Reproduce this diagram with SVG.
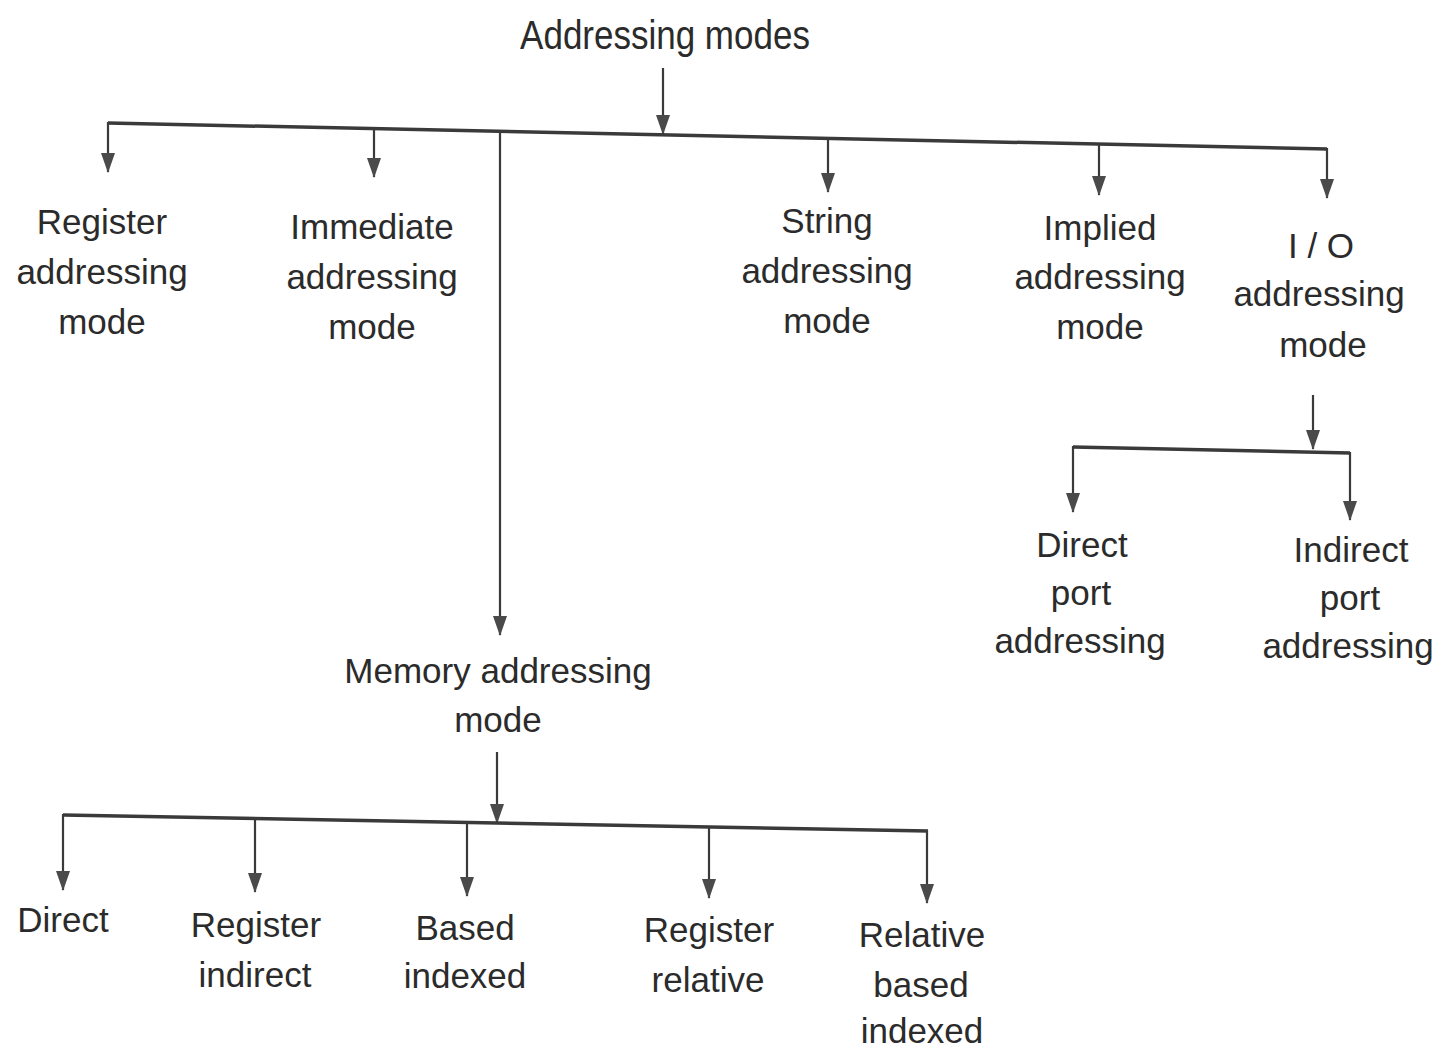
<svg xmlns="http://www.w3.org/2000/svg" width="1442" height="1056" viewBox="0 0 1442 1056">
<defs>
<marker id="ah" viewBox="0 0 20 14" refX="19" refY="7" markerWidth="20" markerHeight="14" markerUnits="userSpaceOnUse" orient="auto">
<path d="M0,0 L20,7 L0,14 Z" fill="#4a4a4a"/>
</marker>
<style>
.lbl{font-family:"Liberation Sans",Arial,sans-serif;font-size:35px;fill:#2b2b2b;text-anchor:middle}
.bar{stroke:#3a3a3a;stroke-width:3.5;fill:none}
.drop{stroke:#3a3a3a;stroke-width:2.2;fill:none;marker-end:url(#ah)}
</style>
</defs>
<rect width="1442" height="1056" fill="#ffffff"/>
<g id="connectors">
<line class="drop" x1="663" y1="68" x2="663" y2="134"/>
<line class="bar" x1="108" y1="123" x2="1327" y2="149"/>
<line class="drop" x1="108" y1="122" x2="108" y2="172"/>
<line class="drop" x1="374" y1="128" x2="374" y2="177"/>
<line class="drop" x1="500" y1="131" x2="500" y2="635"/>
<line class="drop" x1="828" y1="138" x2="828" y2="192"/>
<line class="drop" x1="1099" y1="144" x2="1099" y2="195"/>
<line class="drop" x1="1327" y1="148" x2="1327" y2="198"/>
<line class="drop" x1="1313" y1="395" x2="1313" y2="449"/>
<line class="bar" x1="1073" y1="447" x2="1350" y2="453"/>
<line class="drop" x1="1073" y1="446" x2="1073" y2="512"/>
<line class="drop" x1="1350" y1="452" x2="1350" y2="520"/>
<line class="drop" x1="497" y1="752" x2="497" y2="823"/>
<line class="bar" x1="63" y1="815" x2="928" y2="831"/>
<line class="drop" x1="63" y1="814" x2="63" y2="890"/>
<line class="drop" x1="255" y1="818" x2="255" y2="892"/>
<line class="drop" x1="467" y1="822" x2="467" y2="896"/>
<line class="drop" x1="709" y1="826" x2="709" y2="898"/>
<line class="drop" x1="927" y1="830" x2="927" y2="903"/>
</g>
<g id="root"><text class="lbl" transform="translate(665,49) scale(1,1.15)" style="font-size:35px">Addressing modes</text></g>
<g id="register-mode"><text class="lbl" x="102" y="234">Register</text><text class="lbl" x="102" y="284">addressing</text><text class="lbl" x="102" y="334">mode</text></g>
<g id="immediate-mode"><text class="lbl" x="372" y="239">Immediate</text><text class="lbl" x="372" y="289">addressing</text><text class="lbl" x="372" y="339">mode</text></g>
<g id="string-mode"><text class="lbl" x="827" y="233">String</text><text class="lbl" x="827" y="283">addressing</text><text class="lbl" x="827" y="333">mode</text></g>
<g id="implied-mode"><text class="lbl" x="1100" y="240">Implied</text><text class="lbl" x="1100" y="289">addressing</text><text class="lbl" x="1100" y="339">mode</text></g>
<g id="io-mode"><text class="lbl" x="1321" y="258">I / O</text><text class="lbl" x="1319" y="306">addressing</text><text class="lbl" x="1323" y="357">mode</text></g>
<g id="direct-port"><text class="lbl" x="1082" y="557">Direct</text><text class="lbl" x="1081" y="605">port</text><text class="lbl" x="1080" y="653">addressing</text></g>
<g id="indirect-port"><text class="lbl" x="1351" y="562">Indirect</text><text class="lbl" x="1350" y="610">port</text><text class="lbl" x="1348" y="658">addressing</text></g>
<g id="memory-mode"><text class="lbl" x="498" y="683">Memory addressing</text><text class="lbl" x="498" y="732">mode</text></g>
<g id="direct"><text class="lbl" x="63" y="932">Direct</text></g>
<g id="register-indirect"><text class="lbl" x="256" y="937">Register</text><text class="lbl" x="255" y="987">indirect</text></g>
<g id="based-indexed"><text class="lbl" x="465" y="940">Based</text><text class="lbl" x="465" y="988">indexed</text></g>
<g id="register-relative"><text class="lbl" x="709" y="942">Register</text><text class="lbl" x="708" y="992">relative</text></g>
<g id="relative-based-indexed"><text class="lbl" x="922" y="947">Relative</text><text class="lbl" x="921" y="997">based</text><text class="lbl" x="922" y="1043">indexed</text></g>
</svg>
